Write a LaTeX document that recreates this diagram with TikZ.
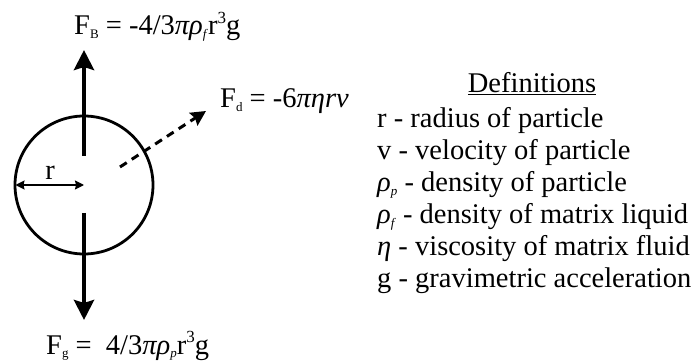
\documentclass[tikz,border=0pt]{standalone}
\usepackage{fontspec}
\setmainfont{Liberation Serif}
\usetikzlibrary{arrows.meta}
\newcommand{\sbs}[1]{\raisebox{-0.12em}{\fontsize{13}{13}\selectfont #1}}
\newcommand{\sps}[1]{\raisebox{0.42em}{\fontsize{17}{17}\selectfont #1}}
\begin{document}
\begin{tikzpicture}[x=1pt,y=-1pt,
  font=\fontsize{28.5}{33}\selectfont,
  lbl/.style={inner sep=0pt, anchor=base west},
  force/.style={line width=4.5pt, -{Stealth[length=20pt,width=20pt,inset=3pt]}},
  drag/.style={line width=3pt, dash pattern=on 8pt off 6pt, -{Stealth[length=15pt,width=15pt,inset=2pt]}},
  rad/.style={line width=1.4pt, {Stealth[length=9pt,width=9pt,inset=1pt]}-{Stealth[length=9pt,width=9pt,inset=1pt]}}
  ]
\useasboundingbox (0,0) rectangle (696,363);
% particle
\node[draw, circle, line width=2.8pt, minimum size=138pt, inner sep=0pt] (p) at (84,185) {};
\coordinate (upS) at (84,156);
\coordinate (upE) at (84,50);
\coordinate (dnS) at (84,213);
\coordinate (dnE) at (84,320);
\coordinate (dS) at (120,167);
\coordinate (dE) at (206,111);
\coordinate (rL) at (15.5,185);
\draw[force] (upS) -- (upE);
\draw[force] (dnS) -- (dnE);
\draw[drag] (dS) -- (dE);
\draw[rad] (rL) -- (p.center);
\node[inner sep=0pt, anchor=base] (rlab) at (50,180) {r};
% force labels
\node[lbl] (fb) at (74,35) {F\sbs{B} = -4/3\textit{πρ}\sbs{\textit{f}}r\sps{3}g};
\node[lbl] (fd) at (220,108) {F\sbs{d} = -6\textit{πηrv}};
\node[lbl] (fg) at (46,354) {F\sbs{g} =\ \ 4/3\textit{πρ}\sbs{\textit{p}}r\sps{3}g};
% definitions
\node[inner sep=0pt, anchor=base] (defh) at (532,93) {\underline{Definitions}};
\node[lbl] (d1) at (377,128) {r - radius of particle};
\node[lbl] (d2) at (377,160) {v - velocity of particle};
\node[lbl] (d3) at (377,192) {\textit{ρ}\sbs{\textit{p}} - density of particle};
\node[lbl] (d4) at (377,224) {\textit{ρ}\sbs{\textit{f}} - density of matrix liquid};
\node[lbl] (d5) at (377,256) {\textit{η} - viscosity of matrix fluid};
\node[lbl] (d6) at (377,288) {g - gravimetric acceleration};
\end{tikzpicture}
\end{document}
